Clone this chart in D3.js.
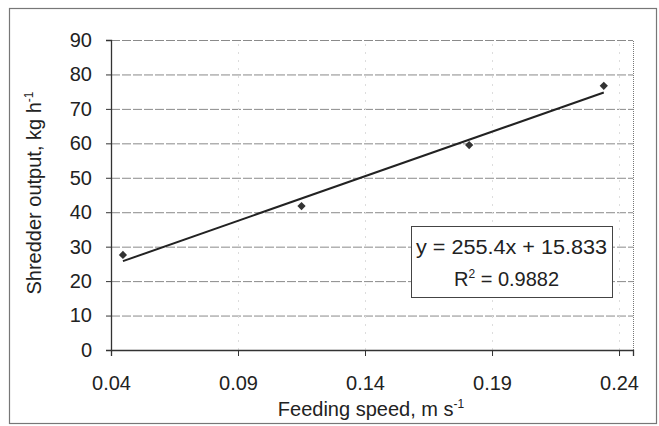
<!DOCTYPE html>
<html>
<head>
<meta charset="utf-8">
<script src="https://cdn.jsdelivr.net/npm/d3@7"></script>
<style>
  body { margin: 0; background: #fff; }
  svg text { font-family: "Liberation Sans", Arial, sans-serif; fill: #222; }
</style>
</head>
<body>
<div id="viz"></div>
<script>
// measured points
var speed = [0.0447, 0.115, 0.181, 0.234];
var output = [27.6, 41.8, 59.5, 76.7];
var xTicks = [0.04, 0.09, 0.14, 0.19, 0.24];
var yTicks = [0, 10, 20, 30, 40, 50, 60, 70, 80, 90];
var eqLines = ['y = 255.4x + 15.833', 'R2 = 0.9882'];

var W = 659, H = 426;
var m = {left: 111, right: 26, top: 40, bottom: 76};

var svg = d3.select('#viz').append('svg')
  .attr('width', W).attr('height', H);

// outer frame
svg.append('rect')
  .attr('x', 9.5).attr('y', 8.5)
  .attr('width', 647).attr('height', 415)
  .attr('fill', 'none').attr('stroke', '#777').attr('stroke-width', 1.2);

var x = d3.scaleLinear().domain([0.04, 0.2455]).range([m.left, W - m.right]);
var y = d3.scaleLinear().domain([0, 90]).range([H - m.bottom, m.top]);

// grid
svg.append('g').selectAll('line').data(yTicks.slice(1)).enter().append('line')
  .attr('x1', x(0.04)).attr('x2', x(0.2455))
  .attr('y1', function(d) { return y(d) + 0.5; })
  .attr('y2', function(d) { return y(d) + 0.5; })
  .attr('stroke', '#8a8a8a').attr('stroke-width', 1)
  .attr('stroke-dasharray', '9,2');

svg.append('g').selectAll('line').data(xTicks.slice(1)).enter().append('line')
  .attr('x1', function(d) { return x(d) + 0.5; })
  .attr('x2', function(d) { return x(d) + 0.5; })
  .attr('y1', y(0)).attr('y2', y(90))
  .attr('stroke', '#ddd').attr('stroke-width', 1)
  .attr('stroke-dasharray', '2,6');

// right border of plot area (dotted)
svg.append('line')
  .attr('x1', x(0.2455) + 0.5).attr('x2', x(0.2455) + 0.5)
  .attr('y1', y(0)).attr('y2', y(90))
  .attr('stroke', '#777').attr('stroke-dasharray', '1,1');

// axes
var xAxis = d3.axisBottom(x).tickValues(xTicks).tickSize(6).tickPadding(20)
  .tickFormat(d3.format('.2f'));
var gx = svg.append('g').attr('transform', 'translate(0,' + y(0) + ')').call(xAxis);
gx.select('.domain').attr('stroke', '#333').attr('stroke-width', 1.3);
gx.selectAll('.tick line').attr('stroke', '#333');
gx.selectAll('text').attr('font-size', 20).attr('fill', '#222');

var yAxis = d3.axisLeft(y).tickValues(yTicks).tickSize(5).tickPadding(14);
var gy = svg.append('g').attr('transform', 'translate(' + m.left + ',0)').call(yAxis);
gy.select('.domain').attr('stroke', '#333').attr('stroke-width', 1.3);
gy.selectAll('.tick line').attr('stroke', '#333');
gy.selectAll('text').attr('font-size', 20).attr('fill', '#222');

// least squares trend line
var mx = d3.mean(speed), my = d3.mean(output);
var sxy = d3.sum(speed, function(v, i) { return (v - mx) * (output[i] - my); });
var sxx = d3.sum(speed, function(v) { return (v - mx) * (v - mx); });
var slope = sxy / sxx, icpt = my - slope * mx;
var ends = d3.extent(speed);
svg.append('line')
  .attr('x1', x(ends[0])).attr('y1', y(slope * ends[0] + icpt))
  .attr('x2', x(ends[1])).attr('y2', y(slope * ends[1] + icpt))
  .attr('stroke', '#222').attr('stroke-width', 2);

// markers
svg.append('g').selectAll('path').data(speed).enter().append('path')
  .attr('d', d3.symbol().type(d3.symbolSquare).size(34))
  .attr('transform', function(d, i) { return 'translate(' + x(d) + ',' + y(output[i]) + ') rotate(45)'; })
  .attr('fill', '#333');

// equation box
var box = svg.append('g');
box.append('rect')
  .attr('x', 411.5).attr('y', 226.5).attr('width', 201).attr('height', 71)
  .attr('fill', '#fff').attr('stroke', '#444').attr('stroke-width', 1);
box.append('text').attr('x', 416).attr('y', 254)
  .attr('font-size', 20).attr('textLength', 191).attr('lengthAdjust', 'spacingAndGlyphs')
  .text(eqLines[0]);
var r2 = box.append('text').attr('x', 454).attr('y', 286).attr('font-size', 20);
r2.append('tspan').text('R');
r2.append('tspan').attr('dy', -8).attr('font-size', 12).text('2');
r2.append('tspan').attr('dy', 8).text(eqLines[1].slice(2));

// axis titles
var xt = svg.append('text').attr('x', 371).attr('y', 416).attr('text-anchor', 'middle')
  .attr('font-size', 20);
xt.append('tspan').text('Feeding speed, m s');
xt.append('tspan').attr('dy', -8).attr('font-size', 12).text('-1');

var yt = svg.append('text').attr('transform', 'translate(41,193) rotate(-90)')
  .attr('text-anchor', 'middle').attr('font-size', 20);
yt.append('tspan').text('Shredder output, kg h');
yt.append('tspan').attr('dy', -8).attr('font-size', 12).text('-1');
</script>
</body>
</html>
